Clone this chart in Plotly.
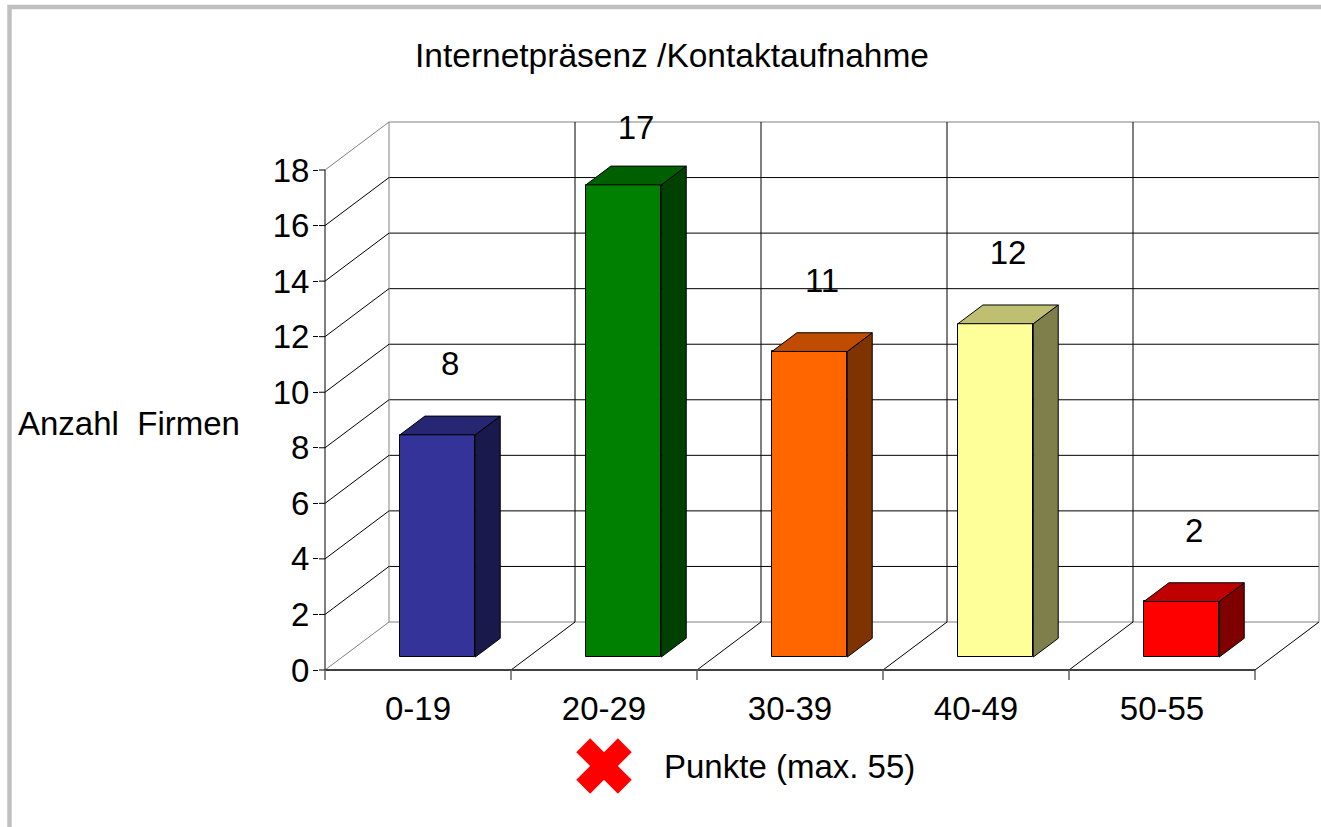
import plotly.graph_objects as go

# ---------------- data ----------------
categories = ["0-19", "20-29", "30-39", "40-49", "50-55"]
counts = [8, 17, 11, 12, 2]
front_colors = ["#333399", "#008000", "#ff6600", "#ffff99", "#ff0000"]
y_ticks = [0, 2, 4, 6, 8, 10, 12, 14, 16, 18]
title_text = "Internetpräsenz /Kontaktaufnahme"
y_title = "Anzahl  Firmen"
legend_label = "Punkte (max. 55)"

# ---------------- layout constants (pixels) ----------------
W, H = 1321, 827
ORIGIN_X, ORIGIN_Y = 325, 670          # front-plane origin (x=0, y=0)
PX_X = 186.0                           # px per category
PX_Y = 500.0 / 18.0                    # px per count unit
PLOT_L, PLOT_R, PLOT_T, PLOT_B = 319, 1321, 100, 827
DEPTH_DX_PX, DEPTH_DY_PX = 64.0, 48.0  # oblique depth offset
DX = DEPTH_DX_PX / PX_X
DY = DEPTH_DY_PX / PX_Y
BAR_X0, BAR_W = 0.31, 0.405            # bar position inside category
D0, D1 = 0.27, 0.66                    # bar depth extent
LABEL_OFF, LABEL_CAP = 2.9, 19.42
CAT_LABEL_PY = 712                     # category label centre (px)
LEG_MX, LEG_MY, LEG_TX = 604, 766, 662 # legend symbol centre / text start (px)
FONT = "Liberation Sans, Arial, sans-serif"
FS = 33

n = len(categories)
ymax = max(y_ticks)


def to_x(px):
    return (px - ORIGIN_X) / PX_X


def to_y(py):
    return (ORIGIN_Y - py) / PX_Y


def proj(x, y, d):
    return x + d * DX, y + d * DY


def scale(c, f):
    c = c.lstrip("#")
    r, g, b = (int(c[i:i + 2], 16) for i in (0, 2, 4))
    return "#%02x%02x%02x" % (int(r * f), int(g * f), int(b * f))


shapes = []


def seg(p, q, color="black", width=1):
    shapes.append(dict(type="line", xref="x", yref="y", x0=p[0], y0=p[1], x1=q[0], y1=q[1],
                       line=dict(color=color, width=width), layer="below"))


GRAY = "#808080"
# back wall horizontals
for t in y_ticks:
    seg(proj(0, t, 1), proj(n, t, 1), GRAY if t in (0, ymax) else "black")
# back wall verticals
for i in range(n + 1):
    seg(proj(i, 0, 1), proj(i, ymax, 1), GRAY if i in (0, n) else "black")
# left side wall diagonals
for t in y_ticks:
    seg(proj(0, t, 0), proj(0, t, 1), GRAY if t in (0, ymax) else "black")
# y tick inner part
xr0 = to_x(PLOT_L)
for t in y_ticks:
    seg((xr0, t), (0, t), "black")
# front vertical axis
seg((0, 0), (0, ymax), "black")
# floor diagonals
for i in range(1, n + 1):
    seg(proj(i, 0, 0), proj(i, 0, 1), "black")
# front x axis line and ticks
seg((0, 0), (n, 0), "#404040", 2)
for i in range(n + 1):
    seg((i, 0), (i, -10 / PX_Y), "#606060", 1.5)

fig = go.Figure()

# front faces
fig.add_trace(go.Bar(
    x=[i + BAR_X0 + BAR_W / 2 + D0 * DX for i in range(n)],
    y=counts, base=[D0 * DY] * n, width=BAR_W,
    marker=dict(color=front_colors, line=dict(color="black", width=1)),
    hoverinfo="skip", showlegend=False,
))

# side and top faces
for i, (v, c) in enumerate(zip(counts, front_colors)):
    x0, x1 = i + BAR_X0, i + BAR_X0 + BAR_W
    side = [proj(x1, 0, D0), proj(x1, 0, D1), proj(x1, v, D1), proj(x1, v, D0), proj(x1, 0, D0)]
    top = [proj(x0, v, D0), proj(x1, v, D0), proj(x1, v, D1), proj(x0, v, D1), proj(x0, v, D0)]
    for poly, f in ((side, 0.5), (top, 0.75)):
        fig.add_trace(go.Scatter(
            x=[p[0] for p in poly], y=[p[1] for p in poly], mode="lines",
            fill="toself", fillcolor=scale(c, f), line=dict(color="black", width=1),
            hoverinfo="skip", showlegend=False,
        ))

# data labels
fig.add_trace(go.Scatter(
    x=[i + BAR_X0 + BAR_W / 2 + (D0 + D1) / 2 * DX for i in range(n)],
    y=[min(v + LABEL_OFF, LABEL_CAP) for v in counts],
    mode="text", text=[str(v) for v in counts],
    textfont=dict(family=FONT, size=FS, color="black"),
    cliponaxis=False, hoverinfo="skip", showlegend=False,
))

# category labels
fig.add_trace(go.Scatter(
    x=[i + 0.5 for i in range(n)], y=[to_y(CAT_LABEL_PY)] * n,
    mode="text", text=categories,
    textfont=dict(family=FONT, size=FS, color="black"),
    cliponaxis=False, hoverinfo="skip", showlegend=False,
))

# legend (drawn manually, symbol is large)
fig.add_trace(go.Scatter(
    x=[to_x(LEG_MX)], y=[to_y(LEG_MY)], mode="markers",
    marker=dict(symbol="x", size=49, color="#ff0000", line=dict(width=0)),
    cliponaxis=False, hoverinfo="skip", showlegend=False, name=legend_label,
))

pw, ph = PLOT_R - PLOT_L, PLOT_B - PLOT_T
annotations = [
    dict(text=legend_label, xref="x", yref="y", x=to_x(LEG_TX),
         y=to_y(LEG_MY), xanchor="left", yanchor="middle", showarrow=False,
         font=dict(family=FONT, size=FS, color="black")),
    dict(text=y_title.replace("  ", "\u00a0 "), xref="paper", yref="paper",
         x=(16 - PLOT_L) / pw, y=(PLOT_B - 423) / ph, xanchor="left", yanchor="middle",
         showarrow=False, font=dict(family=FONT, size=FS, color="black")),
]

# outer frame (light gray)
shapes.append(dict(type="rect", xref="paper", yref="paper",
                   x0=(9.5 - PLOT_L) / pw, x1=(W + 20 - PLOT_L) / pw,
                   y0=(PLOT_B - 7) / ph, y1=(PLOT_B - (H + 20)) / ph,
                   line=dict(color="#c0c0c0", width=4.5), layer="below"))

fig.update_layout(
    width=W, height=H,
    margin=dict(l=PLOT_L, r=W - PLOT_R, t=PLOT_T, b=H - PLOT_B, pad=0),
    paper_bgcolor="white", plot_bgcolor="white",
    title=dict(text=title_text, x=672 / W, y=1 - 55 / H, xref="container", yref="container",
               xanchor="center", yanchor="middle",
               font=dict(family=FONT, size=33.5, color="black")),
    xaxis=dict(range=[xr0, to_x(PLOT_R)], showgrid=False, zeroline=False,
               showline=False, showticklabels=False, ticks="", fixedrange=True),
    yaxis=dict(range=[to_y(PLOT_B), to_y(PLOT_T)], showgrid=False,
               zeroline=False, showline=False, tickvals=y_ticks, ticks="outside", ticklen=5,
               tickcolor="black", tickwidth=1, ticklabelstandoff=-3,
               tickfont=dict(family=FONT, size=FS, color="black"), fixedrange=True),
    shapes=shapes, annotations=annotations,
    showlegend=False, bargap=0,
)

fig.write_html("out.html", include_plotlyjs=True, config={"displayModeBar": False},
               post_script="document.body.style.margin='0';")
